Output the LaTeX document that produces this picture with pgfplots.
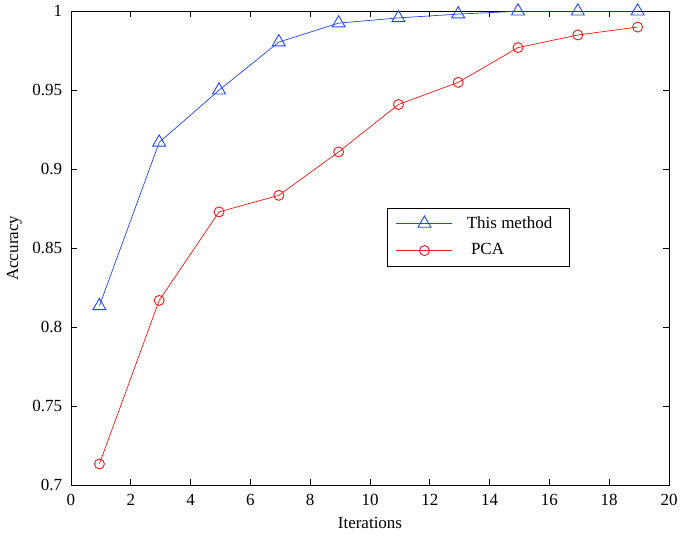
\documentclass[border=0pt]{standalone}
\usepackage{pgfplots}
\pgfplotsset{compat=1.18}
\usepackage{fontspec}
\setmainfont{Liberation Serif}
\definecolor{mblue}{RGB}{30,70,255}
\definecolor{mred}{RGB}{255,20,20}
\begin{document}
\fontsize{17}{20}\selectfont
\begin{tikzpicture}
\begin{axis}[
  name=ax,
  scale only axis,
  width=598pt, height=474pt,
  xmin=0, xmax=20, ymin=0.7, ymax=1,
  xtick={0,2,...,20},
  ytick={0.7,0.75,0.8,0.85,0.9,0.95,1},
  yticklabels={0.7,0.75,0.8,0.85,0.9,0.95,1},
  tick align=inside,
  major tick length=6pt,
  xlabel={Iterations}, ylabel={Accuracy},
  xlabel style={yshift=0pt},
  ylabel style={yshift=-1pt},
  xticklabel style={yshift=-3pt},
  yticklabel style={xshift=-3pt},
  /pgf/number format/assume math mode=true,
  tick label style={font=\fontsize{17}{20}\selectfont},
  label style={font=\fontsize{17}{20}\selectfont},
  legend style={at={(0.528,0.586)}, anchor=north west, draw=black, line width=0.7pt,
    font=\fontsize{17}{20}\selectfont, inner xsep=9pt, inner ysep=6.5pt, row sep=9pt, column sep=12pt},
  legend cell align=left,
  legend image code/.code={\draw[mark repeat=2,mark phase=2] plot coordinates {(0pt,0pt) (28pt,0pt) (56pt,0pt)};},
  axis line style={line width=0.7pt},
  every tick/.style={black, line width=0.7pt},
]
\addplot[mblue, line width=0.7pt, mark=triangle, mark size=7.5pt, mark options={line width=0.9pt}]
coordinates {(0.95,0.8135) (2.95,0.9170) (4.95,0.95) (6.95,0.9805) (8.95,0.9925) (10.95,0.9958) (12.95,0.9982) (14.95,1.0) (16.95,1.0) (18.95,1.0)};
\addlegendentry{This method\rule{6pt}{0pt}}
\addplot[mred, line width=0.7pt, mark=o, mark size=5pt, mark options={line width=0.9pt}]
coordinates {(0.95,0.7135) (2.95,0.817) (4.95,0.873) (6.95,0.8835) (8.95,0.911) (10.95,0.941) (12.95,0.955) (14.95,0.977) (16.95,0.985) (18.95,0.990)};
\addlegendentry{\ PCA}
\end{axis}
\path ([shift={(-71pt,-50pt)}]ax.south west) rectangle ([shift={(16pt,10pt)}]ax.north east);
\end{tikzpicture}
\end{document}
